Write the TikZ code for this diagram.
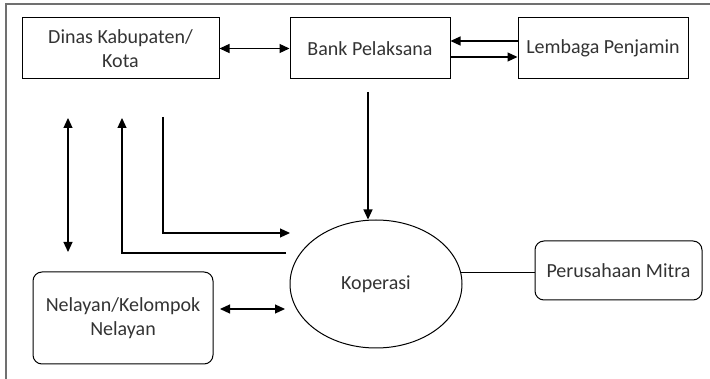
\documentclass[tikz,border=0pt]{standalone}
\usepackage{fontspec}
\setmainfont{Carlito}
\usetikzlibrary{arrows.meta,positioning,calc,shapes.geometric}
\definecolor{txtgray}{HTML}{333333}
\definecolor{framegray}{HTML}{707070}
\tikzset{
  box/.style={draw, line width=1pt, minimum height=61pt, align=center, text=txtgray,
    font=\fontsize{20}{24}\selectfont},
  roundbox/.style={box, rounded corners=9pt},
  link/.style={line width=1.2pt, -{Triangle[length=10pt,width=9pt]}},
  dlink/.style={line width=1.2pt, {Triangle[length=10pt,width=9pt]}-{Triangle[length=10pt,width=9pt]}}
}
\begin{document}
\begin{tikzpicture}[x=1pt,y=-1pt]
        \useasboundingbox (0,0) rectangle (710,379);
        \draw[framegray, line width=1.2pt] (6,379) -- (6,4) -- (710,4);
        \node[box, minimum width=197pt] (dinas) at (120.5,48.5) {Dinas Kabupaten/\\Kota};
        \node[box, minimum width=160pt] (bank) at (370,48.5) {Bank Pelaksana};
        \node[box, minimum width=170pt] (lembaga) at (603,48.5) {Lembaga Penjamin};
        \node[ellipse, draw, line width=1pt, minimum width=172pt, minimum height=128pt, text=txtgray,
          font=\fontsize{20}{24}\selectfont] (koperasi) at (376,284) {Koperasi};
        \node[roundbox, minimum width=167pt, minimum height=59pt] (mitra) at (618.5,270.5) {Perusahaan Mitra};
        \node[roundbox, minimum width=180pt, minimum height=92pt] (nelayan) at (123,318) {Nelayan/Kelompok\\Nelayan};
        \coordinate (bankout) at (368,92);
        \coordinate (up1) at (68,118);
        \coordinate (dn1) at (68,252);
        \coordinate (up2) at (122,118);
        \coordinate (in2) at (286,253);
        \coordinate (out3) at (163,117);
        \coordinate (in3) at (290,233);
        \coordinate (nel) at (220,309);
        \coordinate (kop) at (285,309);

        \draw[dlink] (dinas.east) -- (bank.west);
        \draw[link] ([yshift=7.5pt]lembaga.west) -- ([yshift=7.5pt]bank.east);
        \draw[link] ([yshift=-8.5pt]bank.east) -- ([yshift=-8.5pt]lembaga.west);
        \draw[link] (bankout) -- (bankout |- koperasi.north);
        \draw[dlink] (up1) -- (dn1);
        \draw[link] (in2) -| (up2);
        \draw[link] (out3) |- (in3);
        \draw[dlink] (nel) -- (kop);
        \draw[line width=1pt] (koperasi.8) -- (koperasi.8 -| mitra.west);
\end{tikzpicture}
\end{document}
